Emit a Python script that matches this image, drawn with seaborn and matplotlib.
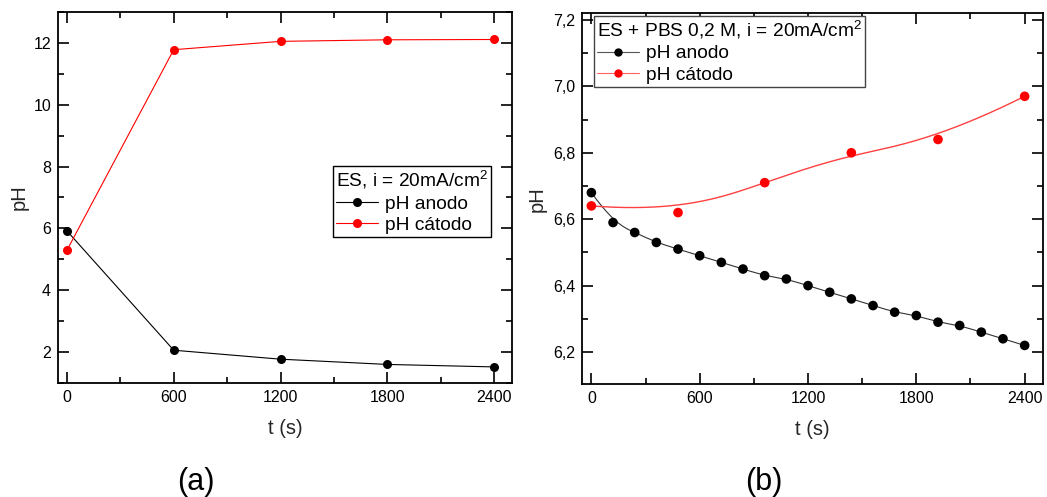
import numpy as np
import pandas as pd
import matplotlib
matplotlib.use("Agg")
import matplotlib.pyplot as plt
from matplotlib.lines import Line2D
from matplotlib.ticker import MultipleLocator, FuncFormatter
import seaborn as sns

# ---- data -------------------------------------------------------------
# (a) ES, i = 20 mA/cm2
t_a = [0, 600, 1200, 1800, 2400]
anodo_a = [5.92, 2.06, 1.77, 1.60, 1.52]
catodo_a = [5.29, 11.78, 12.05, 12.10, 12.11]

# (b) ES + PBS 0,2 M, i = 20 mA/cm2
t_b_anodo = [0, 120, 240, 360, 480, 600, 720, 840, 960, 1080, 1200,
             1320, 1440, 1560, 1680, 1800, 1920, 2040, 2160, 2280, 2400]
anodo_b = [6.68, 6.59, 6.56, 6.53, 6.51, 6.49, 6.47, 6.45, 6.43, 6.42, 6.40,
           6.38, 6.36, 6.34, 6.32, 6.31, 6.29, 6.28, 6.26, 6.24, 6.22]
t_b_catodo = [0, 480, 960, 1440, 1920, 2400]
catodo_b = [6.64, 6.62, 6.71, 6.80, 6.84, 6.97]

x_ticks = [0, 600, 1200, 1800, 2400]
y_ticks_a = [2, 4, 6, 8, 10, 12]
y_ticks_b = [6.2, 6.4, 6.6, 6.8, 7.0, 7.2]

legend_title_a = "ES, i = 20mA/cm$^2$"
legend_title_b = "ES + PBS 0,2 M, i = 20mA/cm$^2$"
label_anodo = "pH anodo"
label_catodo = "pH cátodo"


def bspline(xc, yc, num=400, k=3):
    """Clamped uniform B-spline using the points as control polygon."""
    xc = np.asarray(xc, float)
    yc = np.asarray(yc, float)
    n = len(xc)
    k = min(k, n - 1)
    t = np.concatenate([np.zeros(k), np.linspace(0, 1, n - k + 1), np.ones(k)])
    u = np.linspace(0, 1, num)
    u[-1] = 1 - 1e-12
    B = np.zeros((num, len(t) - 1))
    for i in range(len(t) - 1):
        B[:, i] = ((t[i] <= u) & (u < t[i + 1])).astype(float)
    for d in range(1, k + 1):
        Bn = np.zeros((num, len(t) - 1 - d))
        for i in range(len(t) - 1 - d):
            a = (u - t[i]) / (t[i + d] - t[i]) if t[i + d] > t[i] else 0.0
            b = (t[i + d + 1] - u) / (t[i + d + 1] - t[i + 1]) if t[i + d + 1] > t[i + 1] else 0.0
            Bn[:, i] = a * B[:, i] + b * B[:, i + 1]
        B = Bn
    return B @ xc, B @ yc


# ---- style ------------------------------------------------------------
sns.set_theme(style="ticks")
plt.rcParams["font.family"] = ["Liberation Sans", "DejaVu Sans"]
plt.rcParams["mathtext.fontset"] = "custom"
plt.rcParams["mathtext.rm"] = "Liberation Sans"
plt.rcParams["mathtext.it"] = "Liberation Sans"
plt.rcParams["axes.edgecolor"] = "black"
plt.rcParams["text.color"] = "black"
plt.rcParams["xtick.color"] = "black"
plt.rcParams["ytick.color"] = "black"

RED = "#ff0000"
BLACK = "#000000"
TICK_FS = 11.5
LABEL_FS = 14.5
LEG_FS = 13.8

fig = plt.figure(figsize=(10.47, 4.97), dpi=100)
ax_a = fig.add_axes([0.0554, 0.2294, 0.4336, 0.7465])
ax_b = fig.add_axes([0.5562, 0.2268, 0.4397, 0.7465])


def style_axes(ax, ylabelpad):
    for s in ax.spines.values():
        s.set_linewidth(1.3)
        s.set_color("black")
    ax.tick_params(which="both", direction="in", top=True, right=True,
                   width=1.2, labelsize=TICK_FS, pad=5)
    ax.tick_params(which="major", length=8)
    ax.tick_params(which="minor", length=4.5)
    ax.set_xlim(-50, 2500)
    ax.set_xticks(x_ticks)
    ax.xaxis.set_minor_locator(MultipleLocator(300))
    ax.set_xlabel("t (s)", fontsize=LABEL_FS, labelpad=10)
    ax.set_ylabel("pH", fontsize=LABEL_FS, labelpad=ylabelpad)


# ---- (a) --------------------------------------------------------------
df_a = pd.DataFrame({"t": t_a, "anodo": anodo_a, "catodo": catodo_a})
sns.lineplot(data=df_a, x="t", y="anodo", ax=ax_a, color=BLACK, lw=0.8,
             marker="o", markersize=6.5, markeredgewidth=0, estimator=None, sort=False)
sns.lineplot(data=df_a, x="t", y="catodo", ax=ax_a, color=RED, lw=0.8,
             marker="o", markersize=6.5, markeredgewidth=0, estimator=None, sort=False)
style_axes(ax_a, 3)
ax_a.set_ylim(1.0, 13.0)
ax_a.set_yticks(y_ticks_a)
ax_a.yaxis.set_minor_locator(MultipleLocator(1))

handles_a = [
    Line2D([], [], color=BLACK, lw=0.8, marker="o", markersize=6.5, markeredgewidth=0),
    Line2D([], [], color=RED, lw=0.8, marker="o", markersize=6.5, markeredgewidth=0),
]
leg_a = ax_a.legend(handles_a, [label_anodo, label_catodo], title=legend_title_a,
                    loc="upper left", bbox_to_anchor=(0.606, 0.585), fontsize=LEG_FS,
                    title_fontsize=LEG_FS, frameon=True, fancybox=False, edgecolor="black",
                    framealpha=1, borderpad=0.15, labelspacing=0.22, handlelength=2.2,
                    handletextpad=0.35, borderaxespad=0)
leg_a._legend_box.align = "left"
leg_a.get_frame().set_linewidth(1.0)

# ---- (b) --------------------------------------------------------------
xs_an, ys_an = bspline(t_b_anodo, anodo_b)
xs_ca, ys_ca = bspline(t_b_catodo, catodo_b)
curve_an = pd.DataFrame({"t": xs_an, "pH": ys_an})
curve_ca = pd.DataFrame({"t": xs_ca, "pH": ys_ca})
pts_an = pd.DataFrame({"t": t_b_anodo, "pH": anodo_b})
pts_ca = pd.DataFrame({"t": t_b_catodo, "pH": catodo_b})

sns.lineplot(data=curve_an, x="t", y="pH", ax=ax_b, color="#333333", lw=0.8,
             estimator=None, sort=False)
sns.lineplot(data=curve_ca, x="t", y="pH", ax=ax_b, color="#ff4040", lw=1.0,
             estimator=None, sort=False)
sns.scatterplot(data=pts_an, x="t", y="pH", ax=ax_b, color=BLACK, s=48,
                edgecolor="none", zorder=3)
sns.scatterplot(data=pts_ca, x="t", y="pH", ax=ax_b, color=RED, s=48,
                edgecolor="none", zorder=3)
style_axes(ax_b, 5)
ax_b.set_ylim(6.103, 7.22)
ax_b.set_yticks(y_ticks_b)
ax_b.yaxis.set_minor_locator(MultipleLocator(0.1))
ax_b.yaxis.set_major_formatter(FuncFormatter(lambda v, p: f"{v:.1f}".replace(".", ",")))

handles_b = [
    Line2D([], [], color="#555555", lw=0.8, marker="o", markersize=6, markeredgewidth=0,
           markerfacecolor=BLACK),
    Line2D([], [], color="#ff6060", lw=0.8, marker="o", markersize=6, markeredgewidth=0,
           markerfacecolor=RED),
]
leg_b = ax_b.legend(handles_b, [label_anodo, label_catodo], title=legend_title_b,
                    loc="upper left", bbox_to_anchor=(0.026, 0.9935), fontsize=LEG_FS,
                    title_fontsize=LEG_FS, frameon=True, fancybox=False, edgecolor="#444444",
                    framealpha=1, borderpad=0.15, labelspacing=0.22, handlelength=2.2,
                    handletextpad=0.35, borderaxespad=0)
leg_b._legend_box.align = "left"
leg_b.get_frame().set_linewidth(1.0)

# panel tags
fig.text(196 / 1047, 1 - 482 / 497, "(a)", fontsize=22, ha="center", va="center")
fig.text(764 / 1047, 1 - 482 / 497, "(b)", fontsize=22, ha="center", va="center")

fig.savefig("out.png", dpi=100)
